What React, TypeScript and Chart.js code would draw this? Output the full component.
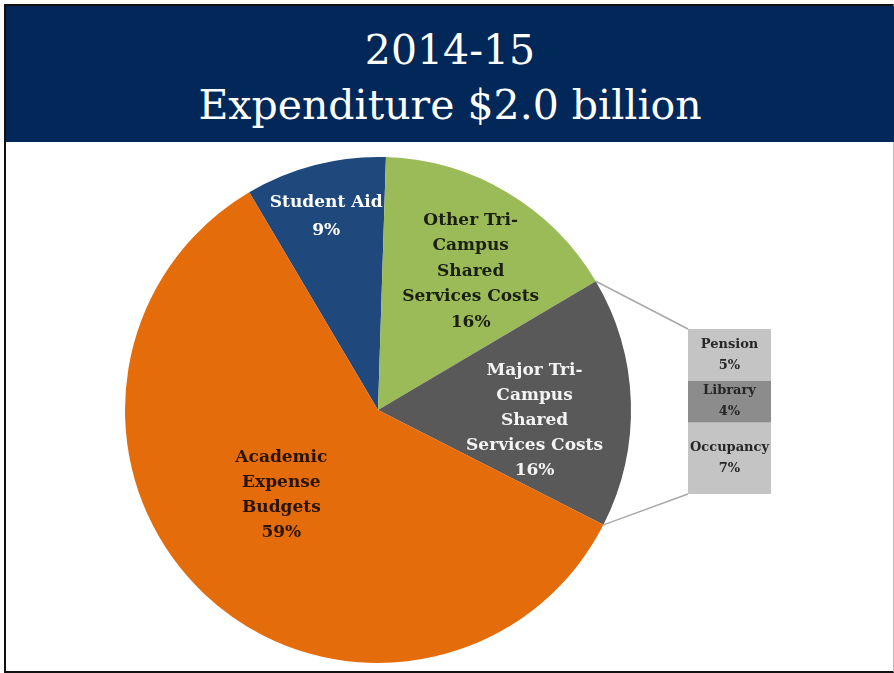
import React, { useEffect, useRef } from "react";
import { Chart, registerables } from "chart.js";

Chart.register(...registerables);

// ---------- data ----------
const titleLines = ["2014-15", "Expenditure $2.0 billion"];
const categories = [
  "Student Aid",
  "Other Tri-Campus Shared Services Costs",
  "Major Tri-Campus Shared Services Costs",
  "Academic Expense Budgets",
];
const shares = [9, 16, 16, 59];
const sliceLabelNames = [
  ["Student Aid"],
  ["Other Tri-", "Campus", "Shared", "Services Costs"],
  ["Major Tri-", "Campus", "Shared", "Services Costs"],
  ["Academic", "Expense", "Budgets"],
];
const breakdownCategories = ["Pension", "Library", "Occupancy"];
const breakdownShares = [5, 4, 7];
const breakdownOfIndex = 2; // Major Tri-Campus slice is broken out

// ---------- styles / layout ----------
const sliceColors = ["#1F497D", "#9BBB59", "#595959", "#E46C0A"];
const sliceLabelColors = ["#ffffff", "#1a1f10", "#f4f4f4", "#2a1400"];
const labelRadiusRatio = [0.79, 0.66, 0.62, 0.51];
const labelAngleOffsetDeg = [-0.6, 3.1, 5.5, 5.3];
const labelLineHeight = [28, 25.5, 25, 25];
const barColors = ["#C4C4C4", "#8C8C8C", "#C4C4C4"];
const FONT = "'DejaVu Serif', 'Liberation Serif', serif";

const PIE = { left: 5, top: 143, width: 888, height: 529 };
const BAR = { left: 688, top: 329, width: 83, height: 165 };

export default function App() {
  const pieRef = useRef<HTMLCanvasElement | null>(null);
  const barRef = useRef<HTMLCanvasElement | null>(null);

  useEffect(() => {
    if (!pieRef.current || !barRef.current) return;
    const total = breakdownShares.reduce((a, b) => a + b, 0);

    const barLabelPlugin = {
      id: "barLabels",
      afterDatasetsDraw(chart: any) {
        const ctx = chart.ctx;
        ctx.save();
        ctx.font = `bold 13px ${FONT}`;
        ctx.fillStyle = "#262626";
        ctx.textAlign = "center";
        ctx.textBaseline = "middle";
        chart.data.datasets.forEach((ds: any, i: number) => {
          const el = chart.getDatasetMeta(i).data[0];
          const cy = (el.y + el.base) / 2;
          ctx.fillText(breakdownCategories[i], el.x, cy - 10.5);
          ctx.fillText(`${breakdownShares[i]}%`, el.x, cy + 10.5);
        });
        ctx.restore();
      },
    };

    const barChart = new Chart(barRef.current, {
      type: "bar",
      data: {
        labels: [""],
        datasets: breakdownCategories.map((c, i) => ({
          label: c,
          data: [breakdownShares[i]],
          backgroundColor: barColors[i],
          borderWidth: 0,
          barPercentage: 1,
          categoryPercentage: 1,
        })),
      },
      options: {
        responsive: false,
        animation: false,
        layout: { padding: 0 },
        plugins: { legend: { display: false }, tooltip: { enabled: false } },
        scales: {
          x: { display: false, stacked: true },
          y: { display: false, stacked: true, reverse: true, min: 0, max: total },
        },
      },
      plugins: [barLabelPlugin],
    });

    const pieLabelPlugin = {
      id: "pieLabels",
      afterDatasetsDraw(chart: any) {
        const ctx = chart.ctx;
        const meta = chart.getDatasetMeta(0);
        ctx.save();
        // connector lines to breakdown bar
        const arc = meta.data[breakdownOfIndex];
        const p = arc.getProps(["x", "y", "startAngle", "endAngle", "outerRadius"], true);
        const bm0 = barChart.getDatasetMeta(0).data[0] as any;
        const bmN = barChart.getDatasetMeta(breakdownShares.length - 1).data[0] as any;
        const dx = BAR.left - PIE.left;
        const dy = BAR.top - PIE.top;
        const barLeft = bm0.x - bm0.width / 2 + dx;
        const barTop = Math.min(bm0.y, bm0.base) + dy;
        const barBottom = Math.max(bmN.y, bmN.base) + dy;
        ctx.strokeStyle = "#a8a8a8";
        ctx.lineWidth = 1.5;
        ctx.beginPath();
        ctx.moveTo(p.x + Math.cos(p.startAngle) * p.outerRadius, p.y + Math.sin(p.startAngle) * p.outerRadius);
        ctx.lineTo(barLeft, barTop);
        ctx.moveTo(p.x + Math.cos(p.endAngle) * p.outerRadius, p.y + Math.sin(p.endAngle) * p.outerRadius);
        ctx.lineTo(barLeft, barBottom);
        ctx.stroke();

        // slice labels
        ctx.font = `bold 17px ${FONT}`;
        ctx.textAlign = "center";
        ctx.textBaseline = "middle";
        meta.data.forEach((el: any, i: number) => {
          const q = el.getProps(["x", "y", "startAngle", "endAngle", "outerRadius"], true);
          const mid = (q.startAngle + q.endAngle) / 2 + (labelAngleOffsetDeg[i] * Math.PI) / 180;
          const r = q.outerRadius * labelRadiusRatio[i];
          const cx = q.x + Math.cos(mid) * r;
          const cy = q.y + Math.sin(mid) * r;
          const lines = [...sliceLabelNames[i], `${shares[i]}%`];
          const lh = labelLineHeight[i];
          const y0 = cy - ((lines.length - 1) * lh) / 2;
          ctx.fillStyle = sliceLabelColors[i];
          lines.forEach((t, k) => ctx.fillText(t, cx, y0 + k * lh));
        });
        ctx.restore();
      },
    };

    const startDeg = 1.8 - (shares[0] / shares.reduce((a, b) => a + b, 0)) * 360;

    const pieChart = new Chart(pieRef.current, {
      type: "pie",
      data: {
        labels: categories,
        datasets: [
          {
            data: shares,
            backgroundColor: sliceColors,
            borderWidth: 0,
            hoverOffset: 0,
            offset: 0,
          },
        ],
      },
      options: {
        responsive: false,
        animation: false,
        rotation: startDeg,
        layout: { padding: { left: 120, right: 262, top: 14, bottom: 9 } },
        plugins: { legend: { display: false }, tooltip: { enabled: false }, title: { display: false } },
      },
      plugins: [pieLabelPlugin],
    });

    return () => {
      pieChart.destroy();
      barChart.destroy();
    };
  }, []);

  return (
    <div style={{ position: "fixed", left: 0, top: 0, width: 894, height: 673, background: "#fff", overflow: "hidden" }}>
      <div
        style={{
          position: "absolute",
          left: 4,
          top: 4,
          width: 890,
          height: 669,
          boxSizing: "border-box",
          borderLeft: "2px solid #111",
          borderTop: "2px solid #111",
          borderBottom: "2px solid #111",
          borderRight: "1px solid #bbb",
        }}
      />
      <div style={{ position: "absolute", left: 6, top: 6, width: 888, height: 136, background: "#012858" }}>
        {titleLines.map((t, i) => (
          <div
            key={i}
            style={{
              position: "absolute",
              left: 0,
              width: 888,
              top: i === 0 ? 19 : 74,
              height: 50,
              lineHeight: "50px",
              textAlign: "center",
              color: "#fff",
              fontFamily: FONT,
              fontSize: 41,
              whiteSpace: "nowrap",
            }}
          >
            {t}
          </div>
        ))}
      </div>
      <canvas
        ref={pieRef}
        width={PIE.width}
        height={PIE.height}
        style={{ position: "absolute", left: PIE.left, top: PIE.top, width: PIE.width, height: PIE.height }}
      />
      <canvas
        ref={barRef}
        width={BAR.width}
        height={BAR.height}
        style={{ position: "absolute", left: BAR.left, top: BAR.top, width: BAR.width, height: BAR.height }}
      />
    </div>
  );
}
